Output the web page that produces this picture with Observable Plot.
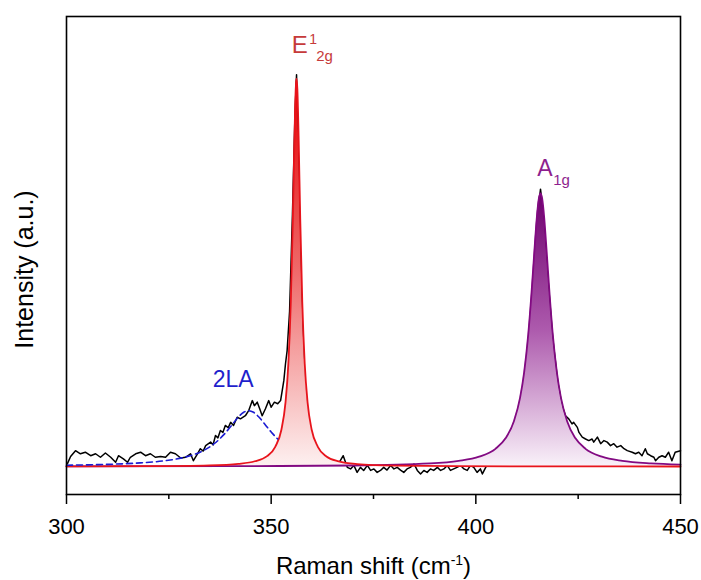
<!DOCTYPE html>
<html>
<head>
<meta charset="utf-8">
<script src="https://cdn.jsdelivr.net/npm/d3@7"></script>
<script src="https://cdn.jsdelivr.net/npm/@observablehq/plot@0.6"></script>
<style>
  body { margin: 0; background: #fff; }
  svg { display: block; }
</style>
</head>
<body>
<div id="chart"></div>
<script>
// Measured Raman spectrum (shift in cm^-1, intensity in arbitrary units)
const specShift = [
  300.2, 301.0, 302.2, 303.4, 304.6, 305.9, 307.1, 308.3, 309.5, 310.8,
  312.0, 312.7, 313.9, 314.9, 315.6, 316.9, 318.1, 319.3, 320.5, 321.7,
  323.0, 324.2, 325.4, 326.6, 327.9, 329.1, 330.3, 331.0, 332.0, 332.7,
  333.4, 334.0, 335.2, 335.8, 336.4, 337.0, 337.6, 338.2, 338.8, 339.5,
  340.1, 340.8, 341.7, 342.5, 343.7, 344.5, 345.4, 345.9, 346.6, 347.2,
  347.8, 348.6, 349.4, 350.0, 350.8, 351.6, 352.3, 352.7, 353.1, 353.5,
  353.9, 354.5, 355.2, 355.8, 356.2, 356.6, 357.2, 358.0, 359.0, 360.0,
  361.5, 363.0, 365.0, 366.5, 367.6, 368.6, 369.4, 370.2, 371.0, 371.8,
  372.6, 373.5, 374.3, 375.1, 375.9, 376.7, 377.5, 378.3, 379.2, 380.0,
  380.8, 381.6, 382.4, 383.2, 384.0, 384.9, 385.7, 386.5, 387.3, 388.1,
  388.9, 389.7, 390.6, 391.4, 392.2, 393.0, 393.8, 394.6, 395.4, 396.3,
  397.1, 397.9, 398.7, 399.5, 400.3, 401.1, 401.6, 403.0, 405.0, 407.0,
  409.0, 411.0, 412.5, 414.0, 415.2, 415.8, 416.4, 417.5, 418.8, 420.0,
  421.0, 421.9, 422.7, 423.5, 423.9, 424.8, 425.2, 426.0, 426.8, 427.6,
  428.4, 428.8, 429.7, 430.5, 431.3, 432.1, 432.9, 433.7, 434.5, 435.4,
  436.2, 437.0, 438.2, 439.0, 439.8, 440.6, 441.4, 441.9, 442.7, 443.5,
  443.9, 444.7, 445.5, 446.3, 447.1, 447.9, 448.7, 450.0
];
const specIntensity = [
  0.7, 2.6, 4.1, 3.3, 3.7, 2.8, 3.3, 2.4, 3.5, 2.4,
  1.1, 2.8, 2.0, 1.1, 2.4, 3.3, 3.7, 2.8, 3.3, 2.4,
  2.6, 2.4, 3.7, 3.3, 2.2, 2.4, 3.3, 1.5, 3.3, 4.6,
  4.0, 5.4, 6.3, 5.6, 8.0, 7.4, 9.3, 8.8, 10.6, 10.0,
  11.4, 10.6, 12.7, 12.3, 13.1, 14.4, 17.0, 15.7, 16.6, 14.9,
  13.1, 14.9, 17.0, 15.3, 16.6, 16.2, 17.0, 19.6, 22.2, 26.5,
  29.9, 40, 65, 90, 101, 82, 50, 22, 11, 6,
  3.2, 2.0, 1.2, 0.8, 2.8, -0.2, -0.6, 0.3, -1.5, -0.2,
  -1.0, 0.3, -1.0, -0.6, -1.5, -1.0, -0.2, -0.9, 0.3, -0.6,
  -0.2, -0.9, -1.5, -0.6, -0.2, 0.7, -1.0, -1.9, -1.0, -1.5,
  -0.6, -1.0, -0.2, -1.0, -0.6, 0.3, -1.0, -0.6, -0.2, 0.3,
  -0.6, -1.0, 0.3, -0.2, -1.5, -0.6, -1.9, 1.0, 2.0, 3.5,
  6.5, 13, 28, 48, 66, 71.5, 66, 50, 33, 22,
  16, 13.1, 12.3, 11.0, 11.4, 10.1, 8.8, 7.6, 7.1, 6.7,
  7.1, 6.3, 7.6, 5.9, 6.7, 6.3, 5.4, 5.9, 5.0, 5.4,
  4.6, 4.1, 3.7, 3.3, 3.7, 2.8, 4.6, 3.3, 2.8, 2.4,
  1.5, 2.4, 2.8, 2.4, 3.7, 1.5, 3.7, 4.1
];

// Fitted E1_2g component
const e2gShift = [
  300, 320, 335, 342, 346, 349, 351, 352.5, 353.5, 354.2,
  354.8, 355.3, 355.7, 356.0, 356.2, 356.4, 356.7, 357.1, 357.6, 358.2,
  358.9, 359.9, 361.4, 363.5, 366.5, 371, 380, 395, 420, 450
];
const e2gIntensity = [
  0.05, 0.11, 0.32, 0.71, 1.37, 2.7, 5.1, 9.5, 16.5, 26.5,
  42.4, 64, 85.2, 97.3, 100, 97.3, 85.2, 64, 42.4, 26.5,
  16.5, 9.5, 5.1, 2.6, 1.34, 0.65, 0.25, 0.1, 0.04, 0.02
];

// Fitted A1g component
const a1gShift = [
  300, 340, 370, 388.8, 395.8, 400.8, 404.8, 407.3, 409.3, 410.8,
  411.8, 412.8, 413.6, 414.3, 414.9, 415.4, 415.8, 416.2, 416.7, 417.3,
  418.0, 418.8, 419.8, 420.8, 422.3, 424.3, 426.8, 430.8, 435.8, 442.8, 450
];
const a1gIntensity = [
  0.04, 0.10, 0.28, 0.80, 1.45, 2.54, 4.57, 7.34, 11.7, 17.7,
  24.3, 34.0, 44.7, 55.5, 64.2, 69.1, 70.4, 69.1, 64.2, 55.5,
  44.7, 34.0, 24.3, 17.7, 11.7, 7.34, 4.57, 2.54, 1.45, 0.80, 0.50
];

// Fitted 2LA component
const laShift = [
  300, 310, 318, 324, 329, 333, 336, 338.5, 340.5, 342,
  343.3, 344.5, 345.7, 347, 348.5, 350, 351.6
];
const laIntensity = [
  0.35, 0.57, 0.94, 1.50, 2.44, 3.89, 5.82, 8.30, 10.85, 12.77,
  13.99, 14.4, 13.99, 12.77, 10.85, 8.90, 7.10
];

const xTicks = [300, 350, 400, 450];
const xMinorTicks = [325, 375, 425];

const rows = (xs, ys) => xs.map((x, i) => ({shift: x, intensity: ys[i]}));
const spectrum = rows(specShift, specIntensity);
const e2g = rows(e2gShift, e2gIntensity);
const a1g = rows(a1gShift, a1gIntensity);
const la = rows(laShift, laIntensity);

const font = "'Liberation Sans', Arial, Helvetica, sans-serif";

const chart = Plot.plot({
  width: 701,
  height: 580,
  marginLeft: 66,
  marginRight: 21,
  marginTop: 16,
  marginBottom: 86,
  style: {fontFamily: font, fontSize: "21px", background: "#fff", color: "#000"},
  x: {domain: [300, 450]},
  y: {domain: [-7.2, 116], axis: null},
  marks: [
    // raw spectrum underneath the filled fits
    Plot.line(spectrum, {x: "shift", y: "intensity", stroke: "#000", strokeWidth: 1.5}),
    Plot.areaY(a1g, {x: "shift", y: "intensity", fill: "url(#a1gFill)", curve: "monotone-x"}),
    Plot.areaY(e2g, {x: "shift", y: "intensity", fill: "url(#e2gFill)", curve: "monotone-x"}),
    Plot.line(a1g, {x: "shift", y: "intensity", stroke: "#820a82", strokeWidth: 1.8, curve: "monotone-x"}),
    Plot.line(e2g, {x: "shift", y: "intensity", stroke: "#e8141c", strokeWidth: 1.8, curve: "monotone-x"}),
    Plot.line(la, {x: "shift", y: "intensity", stroke: "#1b1bd2", strokeWidth: 1.6, strokeDasharray: "6,4", curve: "monotone-x"}),
    Plot.frame({stroke: "#000", strokeWidth: 1.6}),
    Plot.axisX(xTicks, {tickSize: 10, tickPadding: 14, strokeWidth: 1.5, fontSize: 22, label: null}),
    Plot.axisX(xMinorTicks, {tickSize: 5, strokeWidth: 1.5, tickFormat: () => "", label: null}),
    // peak labels
    Plot.text(["E"], {x: 357.0, y: 106.6, text: d => d, fontSize: 24, fill: "#c63a3a", textAnchor: "middle", lineAnchor: "bottom"}),
    Plot.text(["1"], {x: 359.3, y: 108.9, text: d => d, fontSize: 14, fill: "#c63a3a", textAnchor: "start", lineAnchor: "bottom"}),
    Plot.text(["2g"], {x: 361.0, y: 104.6, text: d => d, fontSize: 15, fill: "#c63a3a", textAnchor: "start", lineAnchor: "bottom"}),
    Plot.text(["A"], {x: 416.9, y: 74.8, text: d => d, fontSize: 23, fill: "#8e1f8e", textAnchor: "middle", lineAnchor: "bottom"}),
    Plot.text(["1g"], {x: 418.9, y: 72.6, text: d => d, fontSize: 15, fill: "#8e1f8e", textAnchor: "start", lineAnchor: "bottom"}),
    Plot.text(["2LA"], {x: 340.7, y: 20.4, text: d => d, fontSize: 23, fill: "#1f1fcc", textAnchor: "middle", lineAnchor: "bottom"}),
    // axis titles
    Plot.text(["Intensity (a.u.)"], {frameAnchor: "left", text: d => d, rotate: -90, dx: -42, dy: 14, fontSize: 25, textAnchor: "middle", lineAnchor: "middle"}),
    Plot.text(["Raman shift (cm-1)"], {frameAnchor: "bottom", text: d => d, dy: 72, fontSize: 24, textAnchor: "middle", lineAnchor: "middle"})
  ]
});

// vertical colour ramps for the filled components
const svg = d3.select(chart);
const defs = svg.insert("defs", ":first-child");
function ramp(id, stops) {
  const g = defs.append("linearGradient").attr("id", id)
    .attr("x1", 0).attr("y1", 0).attr("x2", 0).attr("y2", 1);
  stops.forEach(([offset, color]) =>
    g.append("stop").attr("offset", offset).attr("stop-color", color));
}
ramp("e2gFill", [[0, "#e30000"], [0.5, "#ef6a6a"], [1, "#fdf0f0"]]);
ramp("a1gFill", [[0, "#6e006e"], [0.5, "#ad5aad"], [1, "#f9f1f9"]]);

// superscript in the x-axis title
svg.selectAll("text").each(function() {
  const t = d3.select(this);
  const tspan = t.select("tspan");
  const node = tspan.empty() ? t : tspan;
  if (node.text() === "Raman shift (cm-1)") {
    node.text(null);
    node.append("tspan").text("Raman shift (cm");
    node.append("tspan").text("-1").attr("font-size", 14).attr("dy", -9);
    node.append("tspan").text(")").attr("dy", 9);
  }
});

document.getElementById("chart").appendChild(chart);
</script>
</body>
</html>
